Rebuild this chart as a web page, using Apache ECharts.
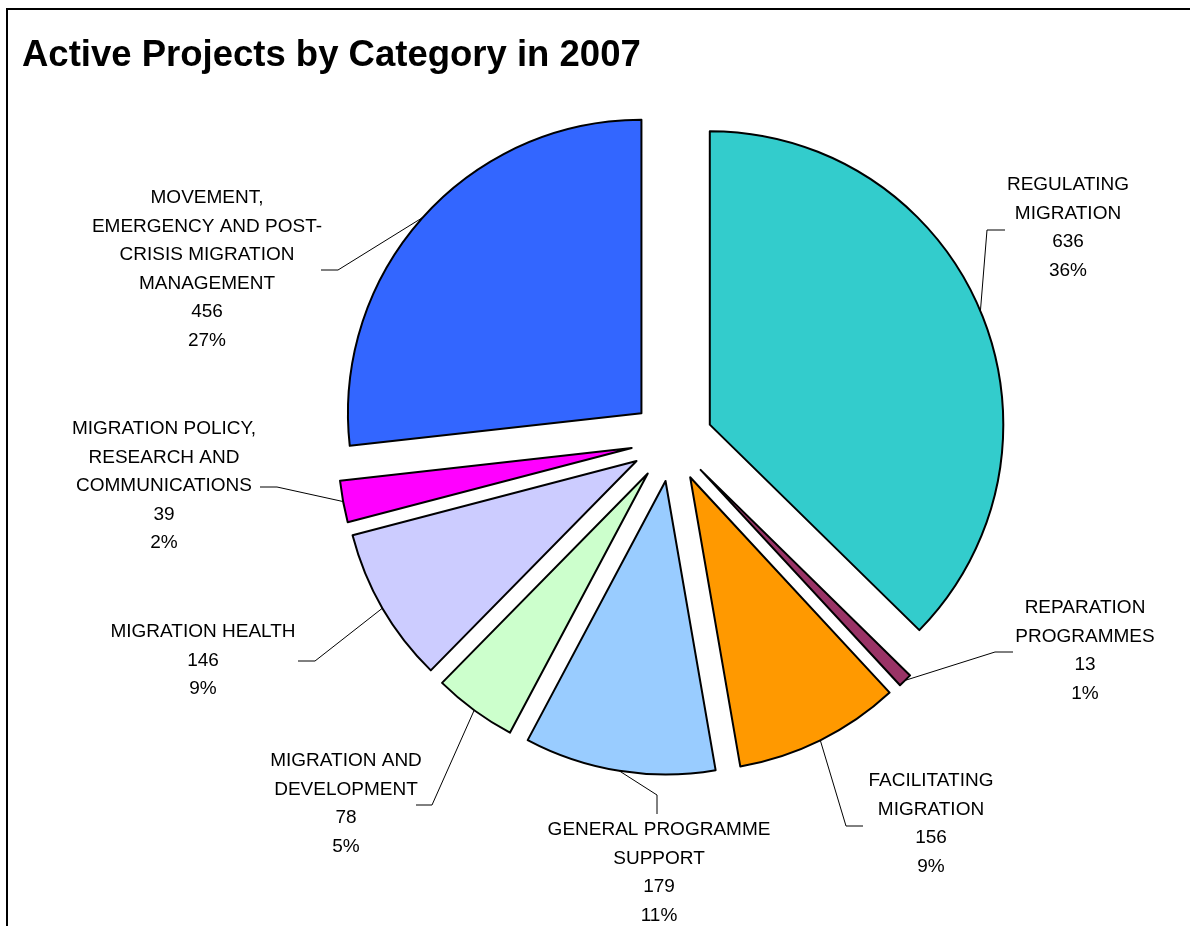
<!DOCTYPE html>
<html><head><meta charset="utf-8">
<script src="https://cdn.jsdelivr.net/npm/echarts@6/dist/echarts.min.js"></script>
<style>html,body{margin:0;padding:0;background:#fff}#c{width:1190px;height:926px}</style>
</head><body><div id="c"></div>
<script>
// ---- data ----
const categories = [
  'REGULATING\nMIGRATION',
  'REPARATION\nPROGRAMMES',
  'FACILITATING\nMIGRATION',
  'GENERAL PROGRAMME\nSUPPORT',
  'MIGRATION AND\nDEVELOPMENT',
  'MIGRATION HEALTH',
  'MIGRATION POLICY,\nRESEARCH AND\nCOMMUNICATIONS',
  'MOVEMENT,\nEMERGENCY AND POST-\nCRISIS MIGRATION\nMANAGEMENT'
];
const values = [636, 13, 156, 179, 78, 146, 39, 456];
const percentLabels = ['36%', '1%', '9%', '11%', '5%', '9%', '2%', '27%'];

// ---- style / layout ----
const colors = ['#33CCCC', '#993366', '#FF9900', '#99CCFF', '#CCFFCC', '#CCCCFF', '#FF00FF', '#3366FF'];
const CX = 672, CY = 440.5, R = 293.5, EXPLODE = 41;
const LINE_H = 28.5;
const FONT = 'Liberation Sans, Arial, sans-serif';
// label block anchors: [center x, first-line centre y]
const labelAnchors = [[1068,185],[1085,608],[931,781],[659,830],[346,761],[203,632],[164,429],[207,198]];
// leader line bend + end points
const leaderBends = [
  [[987,230],[1005,230]],
  [[995,652],[1013,652]],
  [[846,826],[863,826]],
  [[657,795],[657,814]],
  [[432,805],[416,805]],
  [[315,661],[298,661]],
  [[277,487],[260,487]],
  [[338,270],[321,270]]
];

const total = values.reduce((a, b) => a + b, 0);
let acc = 0;
const mids = values.map(v => { const m = (acc + v / 2) / total * 2 * Math.PI; acc += v; return m; });

const pieBase = {
  type: 'pie',
  center: [CX, CY],
  radius: R,
  startAngle: 90,
  clockwise: true,
  avoidLabelOverlap: false,
  emphasis: {disabled: true}
};

const chart = echarts.init(document.getElementById('c'), null, {renderer: 'canvas'});
chart.setOption({
  backgroundColor: '#fff',
  animation: false,
  title: {
    text: 'Active Projects by Category in 2007',
    left: 22, top: 37, padding: 0,
    textStyle: {fontFamily: FONT, fontSize: 36.5, fontWeight: 'bold', color: '#000'}
  },
  graphic: [
    {type: 'line', shape: {x1: 6, y1: 9, x2: 1190, y2: 9}, style: {stroke: '#000', lineWidth: 2}},
    {type: 'line', shape: {x1: 7, y1: 8, x2: 7, y2: 926}, style: {stroke: '#000', lineWidth: 2}}
  ],
  series: [
    Object.assign({}, pieBase, {
      name: 'slices',
      selectedMode: 'multiple',
      selectedOffset: EXPLODE,
      itemStyle: {borderColor: '#000', borderWidth: 2},
      label: {show: false},
      labelLine: {show: false},
      data: categories.map((n, i) => ({name: n, value: values[i], selected: true, itemStyle: {color: colors[i]}}))
    }),
    Object.assign({}, pieBase, {
      name: 'labels',
      silent: true,
      selectedMode: false,
      itemStyle: {color: 'rgba(0,0,0,0)', borderWidth: 0},
      label: {
        show: true,
        position: 'outside',
        color: '#000',
        fontFamily: FONT,
        fontSize: 19,
        lineHeight: LINE_H,
        formatter: p => categories[p.dataIndex] + '\n' + values[p.dataIndex] + '\n' + percentLabels[p.dataIndex]
      },
      labelLine: {show: true, lineStyle: {color: '#000', width: 1}},
      labelLayout: function (params) {
        const i = params.dataIndex;
        const ux = Math.sin(mids[i]), uy = -Math.cos(mids[i]);
        const b = leaderBends[i];
        return {
          x: labelAnchors[i][0],
          y: labelAnchors[i][1] - LINE_H / 2,
          align: 'center',
          verticalAlign: 'top',
          labelLinePoints: [
            [CX + (R + EXPLODE) * ux, CY + (R + EXPLODE) * uy],
            b[0],
            b[1]
          ]
        };
      },
      data: categories.map((n, i) => ({name: n, value: values[i]}))
    })
  ]
});
</script>
</body></html>
